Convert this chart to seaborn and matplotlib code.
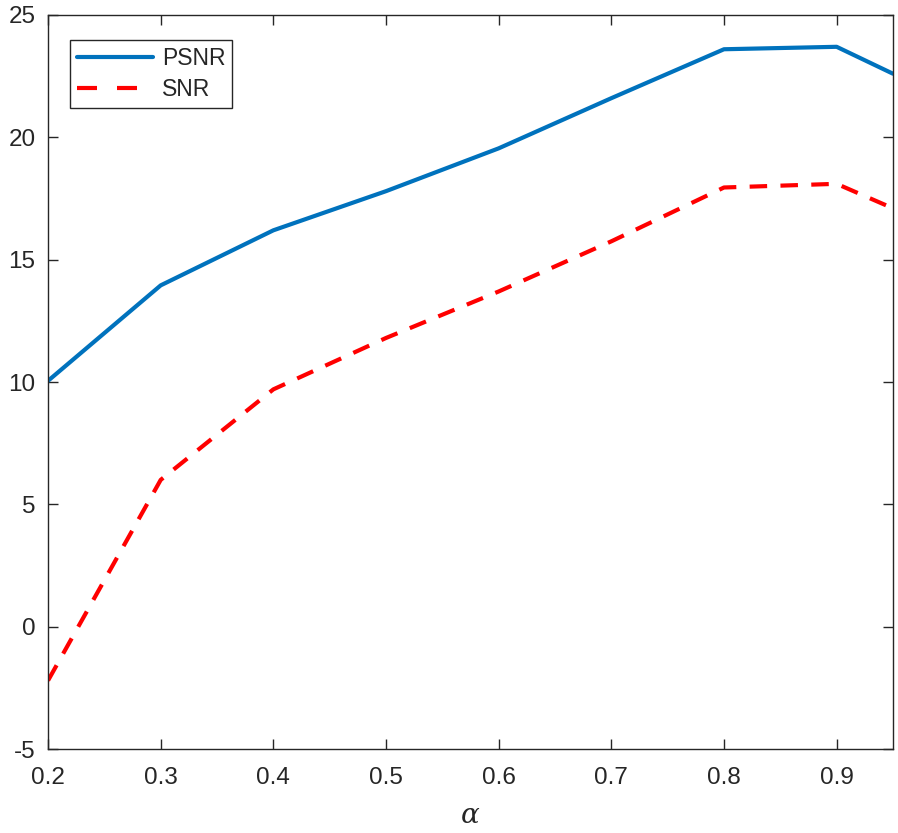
import matplotlib
matplotlib.use("Agg")
from matplotlib import pyplot as plt
import pandas as pd
import seaborn as sns

# Values.
alpha = [0.2, 0.3, 0.4, 0.5, 0.6, 0.7, 0.8, 0.9, 0.95]
psnr = [10.05, 13.95, 16.2, 17.8, 19.55, 21.6, 23.6, 23.7, 22.6]
snr = [-2.2, 6.0, 9.7, 11.8, 13.7, 15.75, 17.95, 18.1, 17.1]
x_ticks = [0.2, 0.3, 0.4, 0.5, 0.6, 0.7, 0.8, 0.9]
y_ticks = [-5, 0, 5, 10, 15, 20, 25]

sns.set_style("white")
plt.rcParams['font.family'] = ['Liberation Sans', 'DejaVu Sans']
plt.rcParams['mathtext.fontset'] = 'dejavuserif'

df = pd.DataFrame({"alpha": alpha, "PSNR": psnr, "SNR": snr})

fig = plt.figure(figsize=(8.98, 8.33), dpi=100)
ax = fig.add_axes([0.0535, 0.1008, 0.9409, 0.8812])

sns.lineplot(data=df, x="alpha", y="PSNR", ax=ax, color="#0072BD", lw=3.0, label="PSNR")
sns.lineplot(data=df, x="alpha", y="SNR", ax=ax, color="#FF0000", lw=3.0, label="SNR",
             dashes=False)
ax.lines[1].set_dashes((4.2, 3.2))

ax.set_xlim(0.2, 0.95)
ax.set_ylim(-5, 25)
ax.set_xticks(x_ticks)
ax.set_xticklabels([f"{t:g}" for t in x_ticks])
ax.set_yticks(y_ticks)
ax.set_yticklabels([str(t) for t in y_ticks])

ax.tick_params(direction="in", length=7, width=1, colors="#262626", labelsize=17.5,
               top=True, right=True, bottom=True, left=True)
ax.tick_params(axis="x", pad=13)
ax.tick_params(axis="y", pad=9)
for s in ax.spines.values():
    s.set_color("#262626")
    s.set_linewidth(1.0)

ax.set_xlabel(r"$\alpha$", fontsize=20, color="#262626", labelpad=10)
ax.set_ylabel("")

leg = ax.legend(loc="upper left", bbox_to_anchor=(0.026, 0.966), borderaxespad=0,
                fontsize=16.5, handlelength=3.3, handletextpad=0.4, fancybox=False,
                framealpha=1, edgecolor="#262626", borderpad=0.3, labelspacing=0.35)
leg.get_frame().set_linewidth(1.0)
for t in leg.get_texts():
    t.set_color("#262626")
leg.get_lines()[1].set_dashes((4.8, 4.8))

fig.savefig("out.png", dpi=100)
